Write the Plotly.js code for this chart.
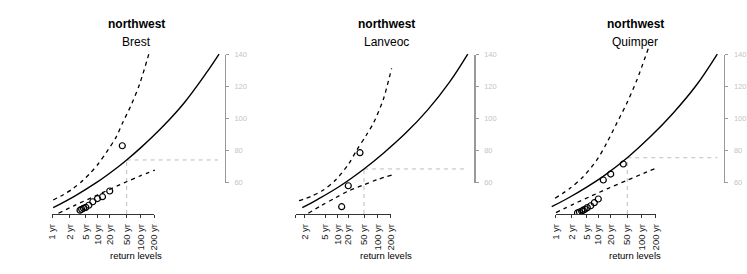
<!DOCTYPE html>
<html><head><meta charset="utf-8">
<script src="https://cdn.plot.ly/plotly-3.0.1.min.js"></script>
<style>html,body{margin:0;padding:0;background:#fff}#chart{width:747px;height:274px}</style>
</head><body><div id="chart"></div>
<script>
// ---------------- data ----------------
const regionName = "northwest";
const stationNames = ["Brest", "Lanveoc", "Quimper"];
const periodLabels = ["1 yr", "2 yr", "5 yr", "10 yr", "20 yr", "50 yr", "100 yr", "200 yr"];
const lanveocPeriodLabels = ["", "2 yr", "5 yr", "10 yr", "20 yr", "50 yr", "100 yr", "200 yr"];
const levelTicks = [60, 80, 100, 120, 140];
const levelAxisTitle = "return levels";

// x = return-period plotting position (reduced variate), y = return level
const brestPeriodPos = [0, 0.40, 0.755, 1.027, 1.311, 1.686, 2.009, 2.318];
const brestFitX = [0.02, 0.5, 1.0, 1.5, 1.69, 2.0, 2.5, 3.0, 3.5, 3.79];
const brestFitY = [44.4, 51.5, 60.0, 70.0, 74.2, 81.6, 94.8, 110.0, 128.6, 140.4];
const brestUpperX = [0.02, 0.25, 0.48, 0.7, 0.86, 1.05, 1.24, 1.45, 1.61, 1.8, 1.99, 2.22];
const brestUpperY = [49.2, 52.5, 56.5, 61.5, 65.9, 72.0, 79.4, 88.5, 98.1, 109.0, 122.1, 142.9];
const brestLowerX = [0.14, 0.5, 1.0, 1.5, 1.69, 2.0, 2.33];
const brestLowerY = [40.9, 45.7, 52.0, 58.3, 60.6, 64.3, 67.9];
const brestObsX = [1.591, 1.305, 1.141, 1.027, 0.92, 0.83, 0.761, 0.709, 0.668, 0.63];
const brestObsY = [83.1, 54.8, 51.25, 50.1, 48.1, 45.9, 44.6, 44.0, 43.4, 42.8];
const brestRL50 = [1.69, 74.2];

const lanveocPeriodPos = [0, 0.211, 0.666, 0.955, 1.195, 1.559, 1.864, 2.159];
const lanveocFitX = [0.15, 0.5, 1.0, 1.552, 2.0, 2.5, 3.0, 3.5, 3.91];
const lanveocFitY = [44.4, 49.6, 57.8, 68.6, 78.6, 91.0, 105.5, 123.0, 140.4];
const lanveocUpperX = [0.075, 0.35, 0.63, 0.9, 1.2, 1.39, 1.6, 1.78, 1.99, 2.18];
const lanveocUpperY = [48.75, 51.5, 55.4, 61.5, 71.5, 80.5, 89.5, 98.0, 112.0, 131.5];
const lanveocLowerX = [0.286, 0.6, 0.9, 1.2, 1.552, 1.85, 2.182];
const lanveocLowerY = [40.9, 46.0, 50.5, 54.8, 58.7, 61.9, 64.8];
const lanveocObsX = [1.045, 1.195, 1.461];
const lanveocObsY = [45.0, 58.1, 78.75];
const lanveocRL50 = [1.552, 68.6];

const quimperPeriodPos = [0, 0.364, 0.709, 0.966, 1.257, 1.625, 1.959, 2.273];
const quimperFitX = [-0.086, 0.3, 0.7, 1.1, 1.632, 2.148, 2.677, 3.209, 3.677];
const quimperFitY = [45.0, 50.6, 57.1, 64.3, 75.6, 88.5, 103.6, 121.2, 140.4];
const quimperUpperX = [-0.01, 0.33, 0.63, 0.94, 1.16, 1.39, 1.62, 1.85, 2.11];
const quimperUpperY = [50.25, 56.5, 63.75, 74.2, 84.6, 97.1, 109.6, 124.2, 144.0];
const quimperLowerX = [0.01, 0.4, 0.8, 1.2, 1.63, 2.0, 2.28];
const quimperLowerY = [41.25, 46.5, 51.5, 56.5, 61.5, 65.8, 69.0];
const quimperObsX = [1.541, 1.255, 1.086, 0.973, 0.882, 0.8, 0.723, 0.67, 0.632, 0.595, 0.545, 0.5];
const quimperObsY = [71.7, 65.4, 61.7, 49.8, 47.5, 45.6, 44.4, 43.4, 42.8, 42.3, 41.7, 41.2];
const quimperRL50 = [1.632, 75.6];

// ---------------- layout ----------------
const W = 747, H = 274;
const PXU = 44;          // px per x unit
const PXL = 1.6;         // px per level unit
const axisPx = 214, topPx = 40;
const lvl60Px = 182.7;
const levelLo = 60 - (axisPx - lvl60Px) / PXL;
const levelHi = 60 + (lvl60Px - topPx) / PXL;
const panelGeom = [
  { x0: 52.3, right: 224.5, center: 136 },
  { x0: 295.7, right: 474.3, center: 386 },
  { x0: 555.5, right: 724, center: 635 }
];
const panels = [
  { name: stationNames[0], pos: brestPeriodPos, labels: periodLabels, fitX: brestFitX, fitY: brestFitY, upX: brestUpperX, upY: brestUpperY, loX: brestLowerX, loY: brestLowerY, obsX: brestObsX, obsY: brestObsY, rl: brestRL50 },
  { name: stationNames[1], pos: lanveocPeriodPos, labels: lanveocPeriodLabels, fitX: lanveocFitX, fitY: lanveocFitY, upX: lanveocUpperX, upY: lanveocUpperY, loX: lanveocLowerX, loY: lanveocLowerY, obsX: lanveocObsX, obsY: lanveocObsY, rl: lanveocRL50 },
  { name: stationNames[2], pos: quimperPeriodPos, labels: periodLabels, fitX: quimperFitX, fitY: quimperFitY, upX: quimperUpperX, upY: quimperUpperY, loX: quimperLowerX, loY: quimperLowerY, obsX: quimperObsX, obsY: quimperObsY, rl: quimperRL50 }
];

const FONT = "Liberation Sans, Arial, Helvetica, sans-serif";
const fx = px => px / W;
const fy = py => 1 - py / H;
const traces = [];
const layout = {
  width: W, height: H,
  margin: { l: 0, r: 0, t: 0, b: 0, pad: 0 },
  paper_bgcolor: "#ffffff", plot_bgcolor: "rgba(0,0,0,0)",
  showlegend: false,
  font: { family: FONT, color: "#000" },
  annotations: []
};

panels.forEach((p, i) => {
  const g = panelGeom[i];
  const k = i + 1, kv = i + 4;
  const xm = k === 1 ? "x" : "x" + k, ym = k === 1 ? "y" : "y" + k;
  const xv = "x" + kv, yv = "y" + kv;
  const key = (a, n) => a + (n === 1 ? "" : n);
  const left = g.right - 178;
  layout[key("xaxis", k)] = {
    domain: [fx(left), fx(g.right)],
    range: [(left - g.x0) / PXU, (g.right - g.x0) / PXU],
    visible: false, anchor: ym, fixedrange: true
  };
  layout[key("yaxis", k)] = {
    domain: [fy(axisPx), fy(topPx)],
    range: [levelLo, levelHi],
    visible: false, anchor: xm, fixedrange: true
  };
  const last = p.pos[p.pos.length - 1];
  layout["xaxis" + kv] = {
    domain: [fx(g.x0), fx(g.x0 + PXU * last)],
    range: [0, last],
    anchor: "free", position: fy(axisPx),
    showline: true, linecolor: "#333", linewidth: 1.2,
    showgrid: false, zeroline: false,
    ticks: "outside", ticklen: 3, tickwidth: 1, tickcolor: "#333",
    tickmode: "array", tickvals: p.pos, ticktext: p.labels,
    tickangle: -90, ticklabelstandoff: 2,
    tickfont: { family: FONT, size: 9.5, color: "#222" },
    fixedrange: true
  };
  const y140 = axisPx - (140 - levelLo) * PXL, y60 = axisPx - (60 - levelLo) * PXL;
  layout["yaxis" + kv] = {
    domain: [fy(y60), fy(y140)],
    range: [60, 140],
    anchor: "free", position: fx(g.right), side: "right",
    showline: true, linecolor: "#999", linewidth: 1.4,
    showgrid: false, zeroline: false,
    ticks: "outside", ticklen: 3, tickwidth: 1, tickcolor: "#999",
    tickmode: "array", tickvals: levelTicks,
    ticklabelstandoff: 4,
    tickfont: { family: FONT, size: 7.5, color: "#c4c4c4" },
    fixedrange: true
  };

  // crosshair for the 50-yr level
  const xr = layout[key("xaxis", k)].range;
  traces.push({ x: [p.rl[0], p.rl[0]], y: [levelLo, p.rl[1]], xaxis: xm, yaxis: ym, mode: "lines",
    line: { color: "#bdbdbd", width: 1, dash: "4px,4px" }, hoverinfo: "skip" });
  traces.push({ x: [p.rl[0], xr[1] - 0.15], y: [p.rl[1], p.rl[1]], xaxis: xm, yaxis: ym, mode: "lines",
    line: { color: "#bdbdbd", width: 1, dash: "4px,4px" }, hoverinfo: "skip" });
  // confidence bounds
  traces.push({ x: p.upX, y: p.upY, xaxis: xm, yaxis: ym, mode: "lines",
    line: { color: "#000", width: 1.3, dash: "4px,4px", shape: "spline", smoothing: 0.8 }, hoverinfo: "skip" });
  traces.push({ x: p.loX, y: p.loY, xaxis: xm, yaxis: ym, mode: "lines",
    line: { color: "#000", width: 1.3, dash: "4px,4px", shape: "spline", smoothing: 0.8 }, hoverinfo: "skip" });
  // fitted return level curve
  traces.push({ x: p.fitX, y: p.fitY, xaxis: xm, yaxis: ym, mode: "lines",
    line: { color: "#000", width: 1.4, shape: "spline", smoothing: 1 }, hoverinfo: "skip" });
  // observations
  traces.push({ x: p.obsX, y: p.obsY, xaxis: xm, yaxis: ym, mode: "markers",
    marker: { symbol: "circle-open", size: 6, color: "#000", line: { width: 1.2, color: "#000" } }, hoverinfo: "skip" });
  // anchor trace for the visible axes
  traces.push({ x: [p.rl[0]], y: [p.rl[1]], xaxis: xv, yaxis: yv, mode: "markers",
    marker: { opacity: 0, size: 1 }, hoverinfo: "skip" });

  layout.annotations.push({ xref: "paper", yref: "paper", x: fx(g.center), y: fy(24), xanchor: "center", yanchor: "middle",
    text: "<b>" + regionName + "</b>", showarrow: false, font: { family: FONT, size: 12, color: "#000" } });
  layout.annotations.push({ xref: "paper", yref: "paper", x: fx(g.center), y: fy(41.5), xanchor: "center", yanchor: "middle",
    text: p.name, showarrow: false, font: { family: FONT, size: 12, color: "#000" } });
  layout.annotations.push({ xref: "paper", yref: "paper", x: fx(g.center), y: fy(255), xanchor: "center", yanchor: "middle",
    text: levelAxisTitle, showarrow: false, font: { family: FONT, size: 9.5, color: "#000" } });
});

Plotly.newPlot("chart", traces, layout, { staticPlot: true, displayModeBar: false });
</script>
</body></html>
